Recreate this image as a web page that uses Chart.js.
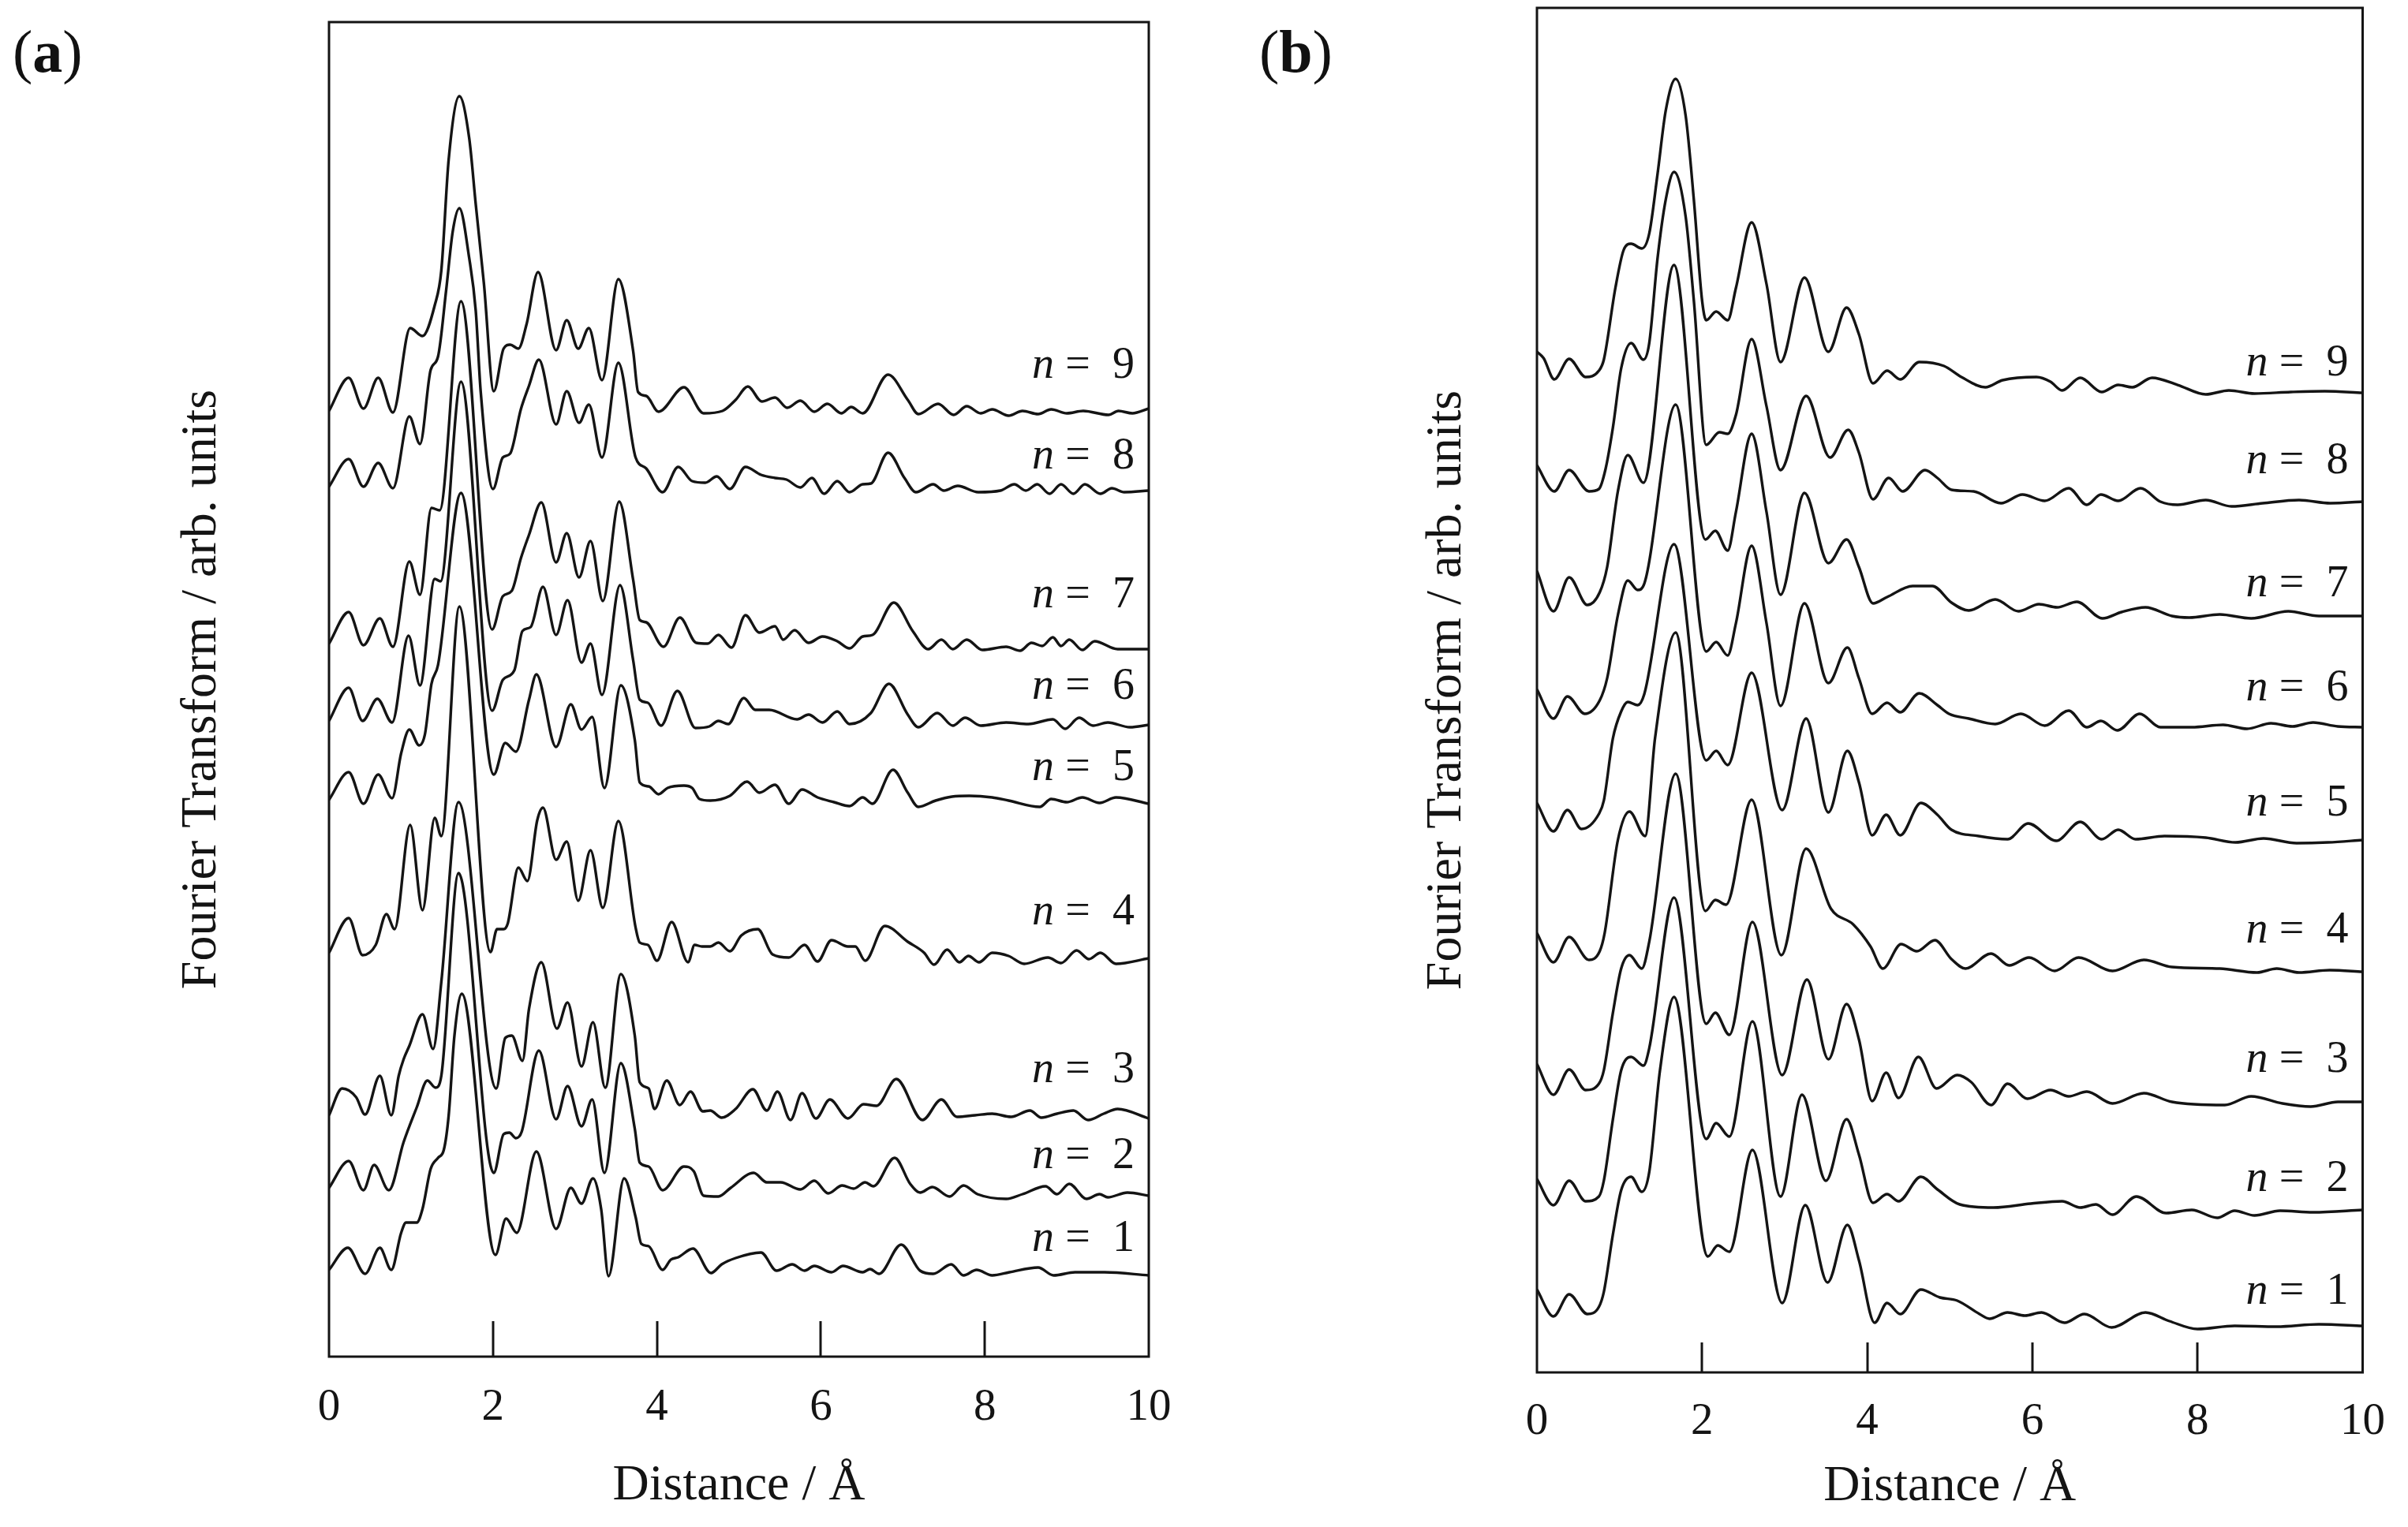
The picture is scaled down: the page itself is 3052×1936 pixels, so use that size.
<!DOCTYPE html>
<html><head><meta charset="utf-8">
<script src="https://cdn.jsdelivr.net/npm/chart.js@4.4.1/dist/chart.umd.min.js"></script>
<style>
html,body{margin:0;padding:0;background:#fff;width:3052px;height:1936px;overflow:hidden;}
canvas{position:absolute;top:0;}
#ca{left:0}
#cb{left:1526px}
.plab{position:absolute;font-family:"Liberation Serif",serif;font-size:76px;color:#111;line-height:1;}
</style></head><body>
<div class="plab" style="left:16px;top:27px">(<b>a</b>)</div>
<div class="plab" style="left:1596px;top:27px">(<b>b</b>)</div>
<canvas id="ca" width="1526" height="1936" style="width:1526px;height:1936px"></canvas>
<canvas id="cb" width="1526" height="1936" style="width:1526px;height:1936px"></canvas>
<script>
// ---- data: [distance (Å), Fourier transform (arb. units)] ----
const distanceTicks = [0, 2, 4, 6, 8, 10];
const xTitle = 'Distance / Å';
const yTitle = 'Fourier Transform / arb. units';

// Panel (a)
const aN9 = [[0,1199],[0.24,1241],[0.42,1202],[0.60,1241],[0.78,1197],[0.99,1304],[1.14,1294],[1.29,1333],[1.37,1377],[1.46,1518],[1.59,1598],[1.71,1545],[1.79,1461],[1.89,1360],[2.01,1224],[2.13,1278],[2.21,1283],[2.31,1278],[2.41,1309],[2.55,1375],[2.77,1276],[2.90,1314],[3.04,1278],[3.17,1304],[3.33,1238],[3.53,1366],[3.71,1275],[3.77,1223],[3.87,1218],[4.02,1198],[4.33,1229],[4.57,1196],[4.80,1199],[4.96,1213],[5.11,1230],[5.28,1211],[5.44,1216],[5.59,1203],[5.75,1212],[5.92,1198],[6.08,1208],[6.25,1196],[6.37,1204],[6.51,1196],[6.82,1245],[7.06,1213],[7.19,1195],[7.43,1208],[7.62,1194],[7.78,1205],[7.95,1196],[8.09,1201],[8.29,1193],[8.46,1199],[8.65,1195],[8.81,1201],[9.00,1196],[9.20,1199],[9.51,1194],[9.63,1199],[9.80,1196],[10,1202]];
const aN8 = [[0,1103],[0.24,1138],[0.42,1103],[0.60,1133],[0.78,1101],[0.98,1192],[1.11,1157],[1.24,1251],[1.33,1268],[1.43,1353],[1.51,1427],[1.59,1456],[1.71,1393],[1.79,1326],[1.85,1224],[2.00,1100],[2.12,1140],[2.21,1145],[2.34,1201],[2.44,1231],[2.56,1264],[2.77,1182],[2.90,1224],[3.05,1184],[3.17,1207],[3.33,1140],[3.53,1260],[3.74,1140],[3.87,1126],[4.07,1096],[4.26,1128],[4.43,1110],[4.59,1108],[4.73,1116],[4.89,1100],[5.08,1128],[5.27,1118],[5.44,1114],[5.58,1112],[5.75,1102],[5.89,1114],[6.04,1094],[6.20,1110],[6.35,1096],[6.51,1106],[6.61,1107],[6.82,1146],[7.02,1114],[7.16,1096],[7.37,1106],[7.50,1098],[7.67,1104],[7.92,1096],[8.19,1098],[8.36,1106],[8.50,1098],[8.64,1106],[8.79,1094],[8.93,1106],[9.08,1094],[9.22,1106],[9.41,1094],[9.55,1101],[9.70,1096],[10,1098]];
const aN7 = [[0,904],[0.24,944],[0.42,902],[0.62,936],[0.78,900],[0.98,1008],[1.11,966],[1.25,1076],[1.35,1073],[1.61,1338],[1.99,922],[2.12,964],[2.23,971],[2.34,1012],[2.44,1042],[2.59,1083],[2.77,1007],[2.90,1044],[3.05,988],[3.19,1034],[3.34,958],[3.54,1084],[3.71,985],[3.79,934],[3.87,931],[4.08,900],[4.28,937],[4.48,905],[4.62,904],[4.75,915],[4.91,899],[5.08,940],[5.25,918],[5.44,926],[5.54,909],[5.68,921],[5.85,905],[6.02,913],[6.20,907],[6.35,898],[6.51,913],[6.63,915],[6.89,956],[7.12,920],[7.31,897],[7.47,909],[7.61,897],[7.78,909],[7.97,896],[8.26,900],[8.43,895],[8.57,905],[8.70,901],[8.83,912],[8.93,901],[9.03,909],[9.19,896],[9.34,907],[9.62,897],[10,897]];
const aN6 = [[0,806],[0.24,848],[0.41,806],[0.59,834],[0.77,804],[0.97,914],[1.11,851],[1.29,986],[1.36,983],[1.61,1236],[1.99,819],[2.12,858],[2.26,870],[2.36,920],[2.46,925],[2.61,976],[2.77,915],[2.91,959],[3.08,880],[3.19,904],[3.33,839],[3.55,978],[3.71,883],[3.79,833],[3.89,829],[4.05,800],[4.25,844],[4.47,797],[4.64,799],[4.75,806],[4.87,802],[5.06,835],[5.20,820],[5.37,820],[5.71,808],[5.85,814],[6.02,804],[6.20,818],[6.35,802],[6.61,816],[6.83,853],[7.06,814],[7.19,798],[7.42,816],[7.61,800],[7.76,810],[7.95,800],[8.26,804],[8.53,802],[8.83,808],[8.98,796],[9.15,810],[9.32,800],[9.50,804],[9.77,798],[10,801]];
const aN5 = [[0,706],[0.24,741],[0.42,701],[0.60,738],[0.77,708],[0.88,765],[0.98,795],[1.10,775],[1.17,789],[1.25,853],[1.33,877],[1.61,1095],[2.01,738],[2.15,778],[2.28,767],[2.44,833],[2.53,865],[2.77,773],[2.95,827],[3.08,795],[3.21,811],[3.36,721],[3.56,851],[3.73,782],[3.79,728],[3.90,723],[4.02,713],[4.13,721],[4.33,724],[4.43,721],[4.52,707],[4.65,705],[4.89,711],[5.10,729],[5.25,715],[5.44,725],[5.61,701],[5.77,719],[5.96,709],[6.16,703],[6.35,698],[6.51,709],[6.63,701],[6.88,744],[7.06,715],[7.19,697],[7.40,705],[7.60,710],[7.81,711],[8.09,709],[8.29,705],[8.67,697],[8.81,707],[9.00,703],[9.19,709],[9.40,702],[9.60,709],[10,701]];
const aN4 = [[0,512],[0.24,556],[0.41,509],[0.57,522],[0.70,561],[0.80,542],[0.99,674],[1.14,566],[1.29,683],[1.37,660],[1.59,951],[1.97,513],[2.05,542],[2.13,542],[2.18,549],[2.31,620],[2.42,603],[2.54,680],[2.61,696],[2.77,630],[2.90,653],[3.04,578],[3.19,642],[3.34,569],[3.53,679],[3.74,544],[3.79,525],[3.89,522],[4.00,502],[4.18,551],[4.38,500],[4.46,522],[4.55,520],[4.65,520],[4.75,525],[4.89,514],[5.03,534],[5.23,542],[5.41,510],[5.61,506],[5.80,522],[5.96,501],[6.13,528],[6.33,520],[6.42,520],[6.54,502],[6.78,546],[7.06,526],[7.26,512],[7.38,497],[7.54,516],[7.69,500],[7.80,508],[7.93,500],[8.09,512],[8.29,508],[8.48,498],[8.77,506],[8.93,499],[9.12,515],[9.27,504],[9.41,512],[9.60,498],[10,505]];
const aN3 = [[0,306],[0.16,340],[0.33,329],[0.44,307],[0.62,356],[0.76,306],[0.85,356],[0.91,377],[0.98,394],[1.14,434],[1.27,390],[1.37,475],[1.58,703],[2.04,340],[2.15,404],[2.23,407],[2.36,375],[2.44,441],[2.59,500],[2.78,416],[2.91,449],[3.08,368],[3.22,424],[3.37,341],[3.56,485],[3.73,407],[3.79,348],[3.90,340],[3.97,314],[4.12,350],[4.28,319],[4.41,336],[4.56,311],[4.65,312],[4.79,303],[4.96,314],[5.17,339],[5.34,312],[5.47,336],[5.63,300],[5.77,334],[5.94,302],[6.11,326],[6.33,302],[6.52,320],[6.68,318],[6.92,352],[7.24,300],[7.47,326],[7.66,304],[7.88,306],[8.09,308],[8.32,304],[8.55,312],[8.69,303],[8.88,308],[9.08,312],[9.26,300],[9.45,308],[9.62,314],[10,302]];
const aN2 = [[0,214],[0.24,248],[0.42,211],[0.55,243],[0.73,211],[0.91,272],[1.07,316],[1.20,350],[1.30,341],[1.37,356],[1.58,613],[2.01,233],[2.13,282],[2.20,284],[2.28,277],[2.35,285],[2.56,388],[2.77,301],[2.91,343],[3.08,292],[3.21,326],[3.36,233],[3.56,372],[3.73,289],[3.79,246],[3.90,241],[4.07,211],[4.33,241],[4.45,235],[4.57,204],[4.75,203],[4.90,214],[5.18,233],[5.34,221],[5.51,221],[5.75,212],[5.92,223],[6.09,207],[6.26,217],[6.40,213],[6.54,221],[6.64,216],[6.90,252],[7.09,219],[7.21,208],[7.36,215],[7.57,203],[7.74,217],[7.91,206],[8.26,200],[8.46,206],[8.74,216],[8.88,206],[9.03,219],[9.24,200],[9.40,206],[9.50,202],[9.74,208],[10,204]];
const aN1 = [[0,110],[0.23,138],[0.44,105],[0.62,138],[0.76,110],[0.88,157],[0.94,170],[1.07,170],[1.14,187],[1.24,238],[1.33,252],[1.40,262],[1.46,306],[1.53,407],[1.62,460],[2.03,129],[2.16,175],[2.29,157],[2.53,260],[2.77,162],[2.95,214],[3.08,194],[3.22,226],[3.32,187],[3.41,102],[3.60,226],[3.74,177],[3.81,143],[3.90,140],[4.07,110],[4.17,123],[4.26,126],[4.44,137],[4.66,106],[4.79,117],[4.96,125],[5.27,132],[5.46,109],[5.65,117],[5.80,109],[5.92,115],[6.13,107],[6.27,115],[6.51,107],[6.60,111],[6.71,105],[6.98,142],[7.21,109],[7.37,105],[7.59,117],[7.74,103],[7.90,110],[8.09,103],[8.30,107],[8.65,113],[8.84,103],[9.10,107],[9.46,107],[10,103]];

// Panel (b)
const bN9 = [[0,1294],[0.08,1286],[0.21,1259],[0.39,1285],[0.59,1262],[0.75,1270],[0.81,1284],[0.95,1375],[1.05,1423],[1.14,1431],[1.27,1425],[1.36,1444],[1.46,1519],[1.56,1600],[1.68,1640],[1.80,1594],[1.90,1487],[2.00,1359],[2.05,1334],[2.17,1345],[2.31,1334],[2.41,1375],[2.60,1458],[2.78,1380],[2.95,1281],[3.24,1388],[3.53,1294],[3.75,1350],[3.90,1316],[4.07,1254],[4.24,1270],[4.40,1259],[4.63,1281],[4.93,1276],[5.14,1262],[5.43,1249],[5.64,1258],[6.05,1262],[6.22,1256],[6.36,1245],[6.58,1261],[6.84,1243],[7.04,1252],[7.21,1249],[7.45,1261],[7.76,1252],[8.10,1240],[8.38,1245],[8.69,1241],[9.13,1243],[9.54,1244],[10,1242]];
const bN8 = [[0,1150],[0.21,1117],[0.39,1144],[0.63,1117],[0.75,1120],[0.83,1145],[0.92,1198],[1.02,1273],[1.14,1305],[1.29,1284],[1.36,1305],[1.46,1412],[1.56,1487],[1.66,1522],[1.80,1466],[1.90,1359],[2.05,1176],[2.21,1192],[2.31,1190],[2.41,1214],[2.60,1310],[2.78,1225],[2.95,1144],[3.26,1238],[3.55,1160],[3.77,1195],[3.90,1166],[4.07,1107],[4.26,1134],[4.43,1117],[4.70,1144],[4.85,1134],[5.02,1119],[5.29,1117],[5.62,1102],[5.88,1113],[6.15,1105],[6.44,1121],[6.66,1100],[6.83,1113],[7.04,1105],[7.31,1121],[7.55,1104],[7.76,1100],[8.10,1106],[8.41,1098],[8.79,1102],[9.23,1106],[9.61,1102],[10,1104]];
const bN7 = [[0,1016],[0.20,965],[0.39,1008],[0.61,973],[0.76,989],[0.85,1021],[0.98,1117],[1.10,1163],[1.29,1128],[1.66,1404],[2.04,1056],[2.16,1067],[2.31,1042],[2.41,1091],[2.60,1190],[2.78,1091],[2.95,986],[3.24,1115],[3.53,1026],[3.75,1056],[3.90,1021],[4.07,975],[4.24,983],[4.55,997],[4.79,997],[5.02,976],[5.23,966],[5.55,980],[5.83,965],[6.08,974],[6.30,970],[6.54,977],[6.85,956],[7.08,964],[7.37,970],[7.69,959],[7.90,957],[8.27,961],[8.65,956],[9.10,965],[9.47,959],[10,959]];
const bN6 = [[0,866],[0.20,829],[0.37,857],[0.58,835],[0.76,852],[0.85,880],[0.98,960],[1.10,1004],[1.22,992],[1.30,1000],[1.68,1227],[2.05,914],[2.17,926],[2.31,909],[2.41,950],[2.60,1048],[2.78,950],[2.95,845],[3.24,975],[3.53,874],[3.76,919],[3.90,880],[4.06,835],[4.24,849],[4.40,837],[4.63,861],[4.85,846],[4.99,835],[5.23,829],[5.55,822],[5.86,835],[6.15,820],[6.44,839],[6.66,818],[6.83,826],[7.03,814],[7.30,835],[7.55,818],[7.93,818],[8.31,821],[8.60,816],[8.89,823],[9.15,819],[9.40,824],[9.70,819],[10,818]];
const bN5 = [[0,722],[0.20,686],[0.37,713],[0.54,689],[0.75,708],[0.81,725],[0.92,804],[1.02,838],[1.10,850],[1.22,846],[1.30,860],[1.66,1050],[2.05,776],[2.17,788],[2.31,770],[2.60,887],[2.97,713],[3.26,829],[3.53,710],[3.76,788],[3.90,748],[4.06,681],[4.23,707],[4.40,681],[4.65,722],[4.85,707],[5.02,688],[5.35,680],[5.70,676],[5.95,696],[6.29,674],[6.58,698],[6.84,676],[7.04,688],[7.25,676],[7.60,680],[8.10,678],[8.46,672],[8.80,677],[9.20,671],[9.58,672],[10,675]];
const bN4 = [[0,557],[0.20,520],[0.39,552],[0.63,523],[0.76,534],[0.82,557],[0.98,675],[1.12,711],[1.31,680],[1.43,804],[1.68,938],[2.04,585],[2.16,599],[2.29,593],[2.60,726],[2.96,529],[3.26,664],[3.56,588],[3.83,568],[4.04,540],[4.19,512],[4.41,543],[4.60,534],[4.82,548],[5.02,524],[5.19,512],[5.50,531],[5.72,516],[5.96,526],[6.27,509],[6.56,526],[6.97,509],[7.35,523],[7.69,514],[8.27,512],[8.72,507],[8.96,512],[9.23,507],[9.60,510],[10,508]];
const bN3 = [[0,391],[0.20,352],[0.39,384],[0.59,358],[0.75,366],[0.81,383],[0.92,456],[1.02,512],[1.12,529],[1.27,512],[1.36,546],[1.68,759],[2.05,442],[2.16,456],[2.33,428],[2.61,571],[2.97,377],[3.27,498],[3.53,397],[3.75,467],[3.90,422],[4.06,344],[4.23,380],[4.38,348],[4.62,400],[4.84,360],[5.09,377],[5.26,368],[5.50,339],[5.70,366],[5.94,347],[6.22,358],[6.44,350],[6.66,356],[6.97,341],[7.35,354],[7.69,343],[8.33,339],[8.65,350],[9.03,341],[9.37,337],[9.70,343],[10,343]];
const bN2 = [[0,245],[0.20,212],[0.39,243],[0.59,217],[0.75,223],[0.81,243],[0.92,321],[1.02,383],[1.14,400],[1.29,389],[1.36,411],[1.66,602],[2.05,296],[2.17,316],[2.33,299],[2.61,445],[2.95,223],[3.21,352],[3.50,243],[3.75,321],[3.90,276],[4.07,215],[4.24,226],[4.38,217],[4.65,248],[4.85,232],[5.12,213],[5.53,209],[5.98,214],[6.36,217],[6.58,209],[6.77,213],[6.97,200],[7.26,223],[7.62,202],[7.93,206],[8.24,196],[8.45,205],[8.69,199],[9.00,205],[9.40,203],[10,206]];
const bN1 = [[0,105],[0.20,71],[0.39,99],[0.61,74],[0.75,83],[0.81,102],[0.92,175],[1.02,231],[1.14,248],[1.27,229],[1.36,254],[1.49,383],[1.66,476],[2.07,147],[2.19,161],[2.33,153],[2.61,282],[2.97,88],[3.25,212],[3.52,114],[3.76,187],[3.90,142],[4.09,63],[4.24,88],[4.40,74],[4.65,105],[4.88,95],[5.09,91],[5.36,74],[5.48,68],[5.70,76],[5.91,72],[6.11,76],[6.39,63],[6.63,74],[6.96,57],[7.37,76],[7.66,65],[8.00,55],[8.45,59],[8.96,58],[9.47,61],[10,59]];

// curve label levels (n = 1 ... 9), in the same arbitrary units
const labelLevelsA = [134, 239, 348, 548, 731, 834, 950, 1126, 1241];
const labelLevelsB = [87, 230, 381, 545, 706, 852, 984, 1140, 1264];

const seriesA = [aN1, aN2, aN3, aN4, aN5, aN6, aN7, aN8, aN9];
const seriesB = [bN1, bN2, bN3, bN4, bN5, bN6, bN7, bN8, bN9];

// ---- drawing ----
const INK = '#141414';
const SERIF = '"Liberation Serif", "Times New Roman", serif';

function toDatasets(series) {
  return series.map((s, i) => ({
    label: 'n = ' + (i + 1),
    data: s.map(p => ({x: p[0], y: p[1]})),
    borderColor: INK,
    borderWidth: 3.4,
    pointRadius: 0,
    fill: false,
    cubicInterpolationMode: 'monotone'
  }));
}

const frame = {
  id: 'frame',
  afterDatasetsDraw(chart, args, opts) {
    const {ctx, chartArea: {left, right, top, bottom}, scales: {x, y}} = chart;
    ctx.save();
    ctx.strokeStyle = INK;
    ctx.lineWidth = 3;
    ctx.strokeRect(left, top, right - left, bottom - top);
    x.ticks.forEach(t => {
      if (t.value > x.min && t.value < x.max) {
        const px = Math.round(x.getPixelForValue(t.value));
        ctx.beginPath();
        ctx.moveTo(px, bottom);
        ctx.lineTo(px, bottom - opts.tickLen);
        ctx.stroke();
      }
    });
    ctx.fillStyle = INK;
    ctx.textBaseline = 'alphabetic';
    const R = right - 20;
    opts.levels.forEach((lv, i) => {
      const py = y.getPixelForValue(lv);
      ctx.font = '56px ' + SERIF;
      ctx.textAlign = 'right';
      ctx.fillText(String(i + 1), R + 2, py);
      ctx.textAlign = 'center';
      ctx.fillText('=', R - 70, py);
      ctx.font = 'italic 56px ' + SERIF;
      ctx.textAlign = 'right';
      ctx.fillText('n', R - 100, py);
    });
    ctx.restore();
  }
};

function makeChart(id, series, cfg) {
  return new Chart(document.getElementById(id), {
    type: 'line',
    data: {datasets: toDatasets(series)},
    options: {
      responsive: false,
      animation: false,
      devicePixelRatio: 1,
      layout: {padding: {top: cfg.top, right: cfg.right, left: 0, bottom: 0}},
      plugins: {
        legend: {display: false},
        tooltip: {enabled: false},
        frame: {levels: cfg.levels, tickLen: cfg.tickLen}
      },
      scales: {
        x: {
          type: 'linear', min: distanceTicks[0], max: distanceTicks[distanceTicks.length - 1],
          afterBuildTicks: s => { s.ticks = distanceTicks.map(v => ({value: v})); },
          ticks: {padding: cfg.tickPad, color: INK, maxRotation: 0, autoSkip: false,
                  font: {family: SERIF, size: 57}},
          grid: {display: false, drawTicks: false},
          border: {display: false},
          title: {display: true, text: xTitle, color: INK,
                  font: {family: SERIF, size: 64}, padding: {top: 0, bottom: cfg.xTitlePad}},
          afterFit: s => { s.height = cfg.xAxisH; }
        },
        y: {
          type: 'linear', min: 0, max: cfg.yMax,
          ticks: {display: false},
          grid: {display: false, drawTicks: false},
          border: {display: false},
          title: {display: true, text: yTitle, color: INK,
                  font: {family: SERIF, size: 64}, padding: {top: cfg.yTitlePad, bottom: 0}},
          afterFit: s => { s.width = cfg.yAxisW; }
        }
      }
    },
    plugins: [frame]
  });
}

makeChart('ca', seriesA, {top: 28, right: 70, yAxisW: 417, xAxisH: 216, yMax: 1692,
  tickPad: 31, xTitlePad: 13, yTitlePad: 218, tickLen: 45, levels: labelLevelsA});
makeChart('cb', seriesB, {top: 10, right: 52, yAxisW: 422, xAxisH: 196, yMax: 1730,
  tickPad: 29, xTitlePad: 12, yTitlePad: 270, tickLen: 38, levels: labelLevelsB});
</script>
</body></html>
